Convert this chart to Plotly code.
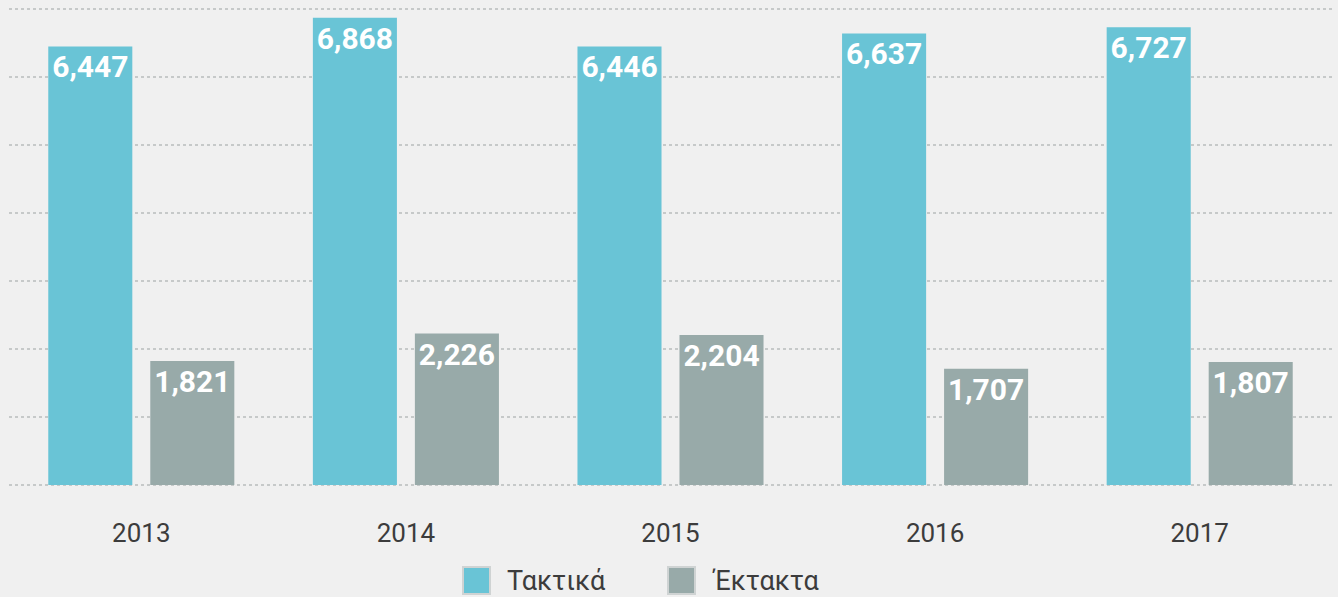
import plotly.graph_objects as go

years = ["2013", "2014", "2015", "2016", "2017"]
taktika = [6447, 6868, 6446, 6637, 6727]
ektakta = [1821, 2226, 2204, 1707, 1807]
series_names = ["Τακτικά", "Έκτακτα"]
colors = ["#69C4D6", "#98AAA9"]
grid_ticks = [0, 1000, 2000, 3000, 4000, 5000, 6000, 7000]

W, H = 1338, 597
ml, mr, mt, mb = 9, 6, 4, 110
grid_color = "#c6c9c9"

fig = go.Figure()
for name, vals, col in zip(series_names, [taktika, ektakta], colors):
    fig.add_trace(go.Bar(
        x=years, y=vals, name=name,
        marker=dict(color=col, line=dict(width=0)),
        texttemplate="%{y:,.0f}",
        textposition="inside",
        insidetextanchor="end",
        textangle=0,
        textfont=dict(family="Roboto", size=30, color="white", weight="bold"),
        showlegend=False,
        cliponaxis=False,
    ))

# custom legend (large square swatches)
pw = W - ml - mr
ph = H - mt - mb
def px_to_paper_x(px):
    return (px - ml) / pw
def px_to_paper_y(py):
    return (H - mb - py) / ph

legend_x = [463, 668]
sw = 27
for lx, name, col in zip(legend_x, series_names, colors):
    fig.add_shape(type="rect", xref="paper", yref="paper",
                  x0=px_to_paper_x(lx), x1=px_to_paper_x(lx + sw),
                  y0=px_to_paper_y(567), y1=px_to_paper_y(567 + sw),
                  fillcolor=col, line=dict(color="#cfd3d3", width=2), layer="above")
    fig.add_annotation(xref="paper", yref="paper",
                       x=px_to_paper_x(lx + sw + 15), y=px_to_paper_y(581),
                       xanchor="left", yanchor="middle", showarrow=False,
                       text=name, font=dict(family="Roboto", size=27, color="#3c3c3c"))

fig.update_layout(
    width=W, height=H,
    margin=dict(l=ml, r=mr, t=mt, b=mb),
    paper_bgcolor="#f0f0f0",
    plot_bgcolor="#f0f0f0",
    barmode="group",
    bargap=0.229,
    bargroupgap=0.176,
    font=dict(family="Roboto", color="#3c3c3c"),
    xaxis=dict(
        type="category",
        showgrid=False, zeroline=False, showline=False,
        ticks="",
        tickfont=dict(family="Roboto", size=26, color="#3c3c3c"),
        ticklabelstandoff=28,
    ),
    yaxis=dict(
        range=[-30, 7070],
        tickvals=grid_ticks,
        showticklabels=False,
        showgrid=True, gridcolor=grid_color, griddash="dot", gridwidth=2,
        zeroline=False, showline=False,
    ),
)

fig.write_html(
    "out.html",
    config={"displayModeBar": False},
    post_script="document.body.style.margin='0';document.body.style.background='#f0f0f0';",
)
